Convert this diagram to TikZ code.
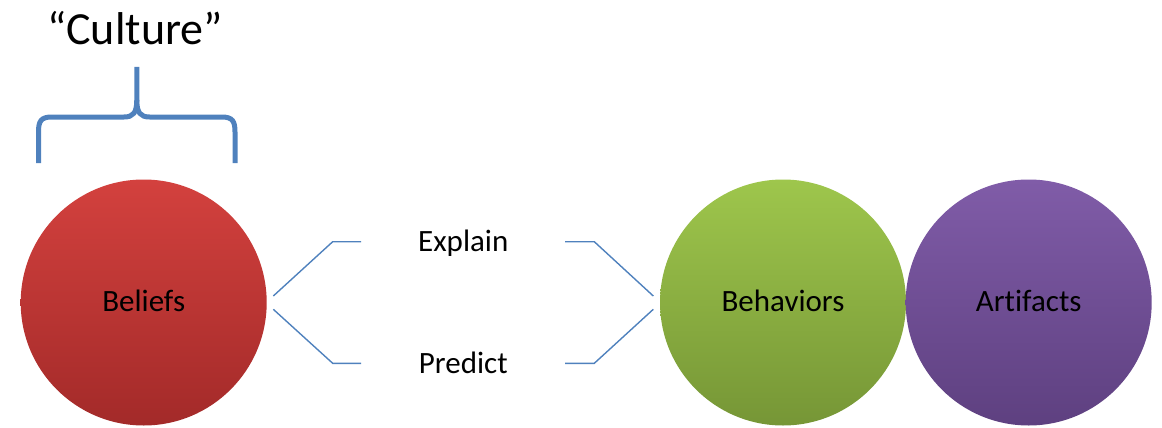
\documentclass[tikz,border=0pt]{standalone}
\usepackage{fontspec}
\setmainfont[Ligatures=NoCommon]{Carlito}
\definecolor{linkblue}{RGB}{79,129,189}
\definecolor{redtop}{RGB}{211,65,62}
\definecolor{redbot}{RGB}{163,42,41}
\definecolor{greentop}{RGB}{158,198,76}
\definecolor{greenbot}{RGB}{118,150,54}
\definecolor{purpletop}{RGB}{128,92,168}
\definecolor{purplebot}{RGB}{94,64,128}
\tikzset{
  ball/.style={circle, minimum size=246pt, inner sep=0pt, draw=none},
  label31/.style={font=\fontsize{31}{37}\selectfont, anchor=base, inner sep=0pt},
  link/.style={draw=linkblue, line width=1.4pt, line join=miter},
  bracepath/.style={draw=linkblue, line width=5pt, line cap=butt}
}
\begin{document}
\begin{tikzpicture}[x=1pt,y=-1pt]
\useasboundingbox (0,0) rectangle (1162,428);

% the three circles
\node[ball, top color=redtop, bottom color=redbot] (beliefs) at (143.7,302.5) {};
\node[ball, top color=greentop, bottom color=greenbot] (behaviors) at (783,302.5) {};
\node[ball, top color=purpletop, bottom color=purplebot] (artifacts) at (1028.7,302.5) {};

\node[label31] (tbeliefs) at (143.7,311.7) {Beliefs};
\node[label31] (tbehaviors) at (783,311.7) {Behaviors};
\node[label31] (tartifacts) at (1028.7,311.7) {Artifacts};

% middle labels
\node[label31] (explain) at (463.3,251.7) {Explain};
\node[label31] (predict) at (463.3,373.3) {Predict};

% connector end points
\coordinate (lu1) at (273.3,296);
\coordinate (lu2) at (332.7,241.7);
\coordinate (lu3) at (361,241.7);
\coordinate (ll1) at (273.3,309.3);
\coordinate (ll2) at (332.7,363.3);
\coordinate (ll3) at (361,363.3);
\coordinate (ru1) at (565,241.7);
\coordinate (ru2) at (594.3,241.7);
\coordinate (ru3) at (653.3,296);
\coordinate (rl1) at (565,363.3);
\coordinate (rl2) at (594.3,363.3);
\coordinate (rl3) at (653.3,309.3);

\draw[link] (lu1) -- (lu2) -- (lu3);
\draw[link] (ll1) -- (ll2) -- (ll3);
\draw[link] (ru1) -- (ru2) -- (ru3);
\draw[link] (rl1) -- (rl2) -- (rl3);

% brace over Beliefs
\coordinate (bl) at (38.5,163);
\coordinate (br) at (235,163);
\coordinate (btip) at (136.8,67);
\draw[bracepath] (bl) -- (38.5,132) .. controls (38.5,121) and (41,117) .. (52,117)
  -- (124,117) .. controls (133,117) and (136.8,113) .. (136.8,100) -- (btip);
\draw[bracepath] (br) -- (235,132) .. controls (235,121) and (232.5,117) .. (221.5,117)
  -- (149.6,117) .. controls (140.6,117) and (136.8,113) .. (136.8,100);

\node[font=\fontsize{46}{55}\selectfont, anchor=base, inner sep=0pt] (culture) at (135,45) {“Culture”};
\end{tikzpicture}
\end{document}
